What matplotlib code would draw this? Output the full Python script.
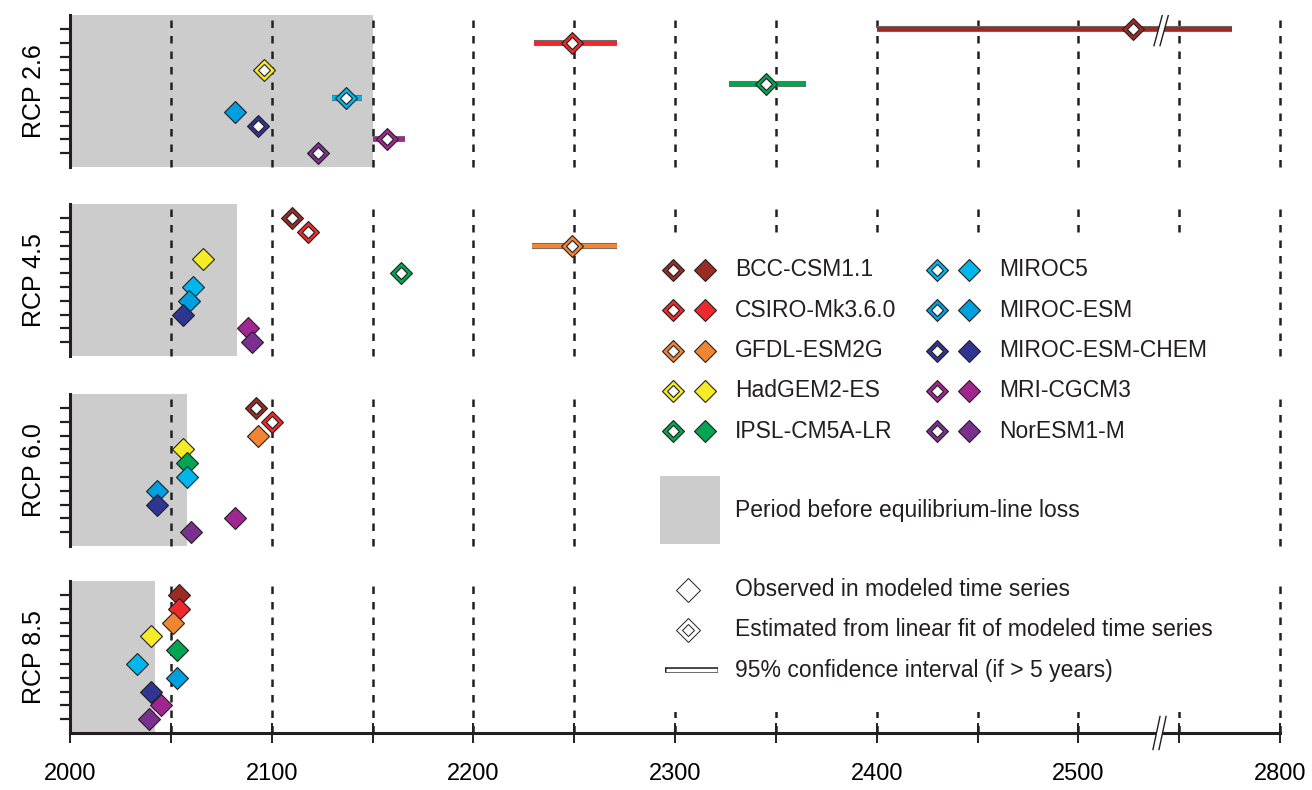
import matplotlib
matplotlib.use('Agg')
import matplotlib.pyplot as plt
from matplotlib.patches import Polygon, Rectangle
import numpy as np

plt.rcParams['font.family'] = ['Liberation Sans', 'DejaVu Sans']

nan = np.nan

models = ['BCC-CSM1.1', 'CSIRO-Mk3.6.0', 'GFDL-ESM2G', 'HadGEM2-ES', 'IPSL-CM5A-LR',
          'MIROC5', 'MIROC-ESM', 'MIROC-ESM-CHEM', 'MRI-CGCM3', 'NorESM1-M']
colors = ['#9b2c24', '#ed2a2b', '#f08533', '#f6eb27', '#00a651',
          '#00b6ed', '#009fdf', '#2e3592', '#a0278f', '#7b3090']
scenarios = ['RCP 2.6', 'RCP 4.5', 'RCP 6.0', 'RCP 8.5']

# end of grey period (before equilibrium-line loss)
gray_end = [2150, 2083, 2058, 2042]

# year of equilibrium-line loss, one list per scenario (nan = none)
rcp26 = [2527, 2249, nan, 2096, 2345, 2137, 2082, 2093, 2157, 2123]
rcp45 = [2110, 2118, 2249, 2066, 2164, 2061, 2059, 2056, 2088, 2090]
rcp60 = [2092, 2100, 2093, 2056, 2058, 2058, 2043, 2043, 2082, 2060]
rcp85 = [2054, 2054, 2051, 2040, 2053, 2033, 2053, 2040, 2045, 2039]

# 1 = estimated from linear fit (hollow), 0 = observed (filled)
est26 = [1, 1, 0, 1, 1, 1, 0, 1, 1, 1]
est45 = [1, 1, 1, 0, 1, 0, 0, 0, 0, 0]
est60 = [1, 1, 0, 0, 0, 0, 0, 0, 0, 0]
est85 = [0, 0, 0, 0, 0, 0, 0, 0, 0, 0]

# 95% confidence intervals (if > 5 years)
lo26 = [2400, 2230, nan, nan, 2327, 2130, nan, nan, 2150, nan]
hi26 = [2776, 2271, nan, nan, 2365, 2145, nan, nan, 2166, nan]
lo45 = [nan, nan, 2229, nan, nan, nan, nan, nan, nan, nan]
hi45 = [nan, nan, 2271, nan, nan, nan, nan, nan, nan, nan]
lo60 = [nan] * 10
hi60 = [nan] * 10
lo85 = [nan] * 10
hi85 = [nan] * 10

years = [rcp26, rcp45, rcp60, rcp85]
est = [est26, est45, est60, est85]
los = [lo26, lo45, lo60, lo85]
his = [hi26, hi45, hi60, hi85]

xticks = [2000, 2100, 2200, 2300, 2400, 2500, 2800]
brk = 2540   # axis break (display units), 200 years cut out
cut = 200


def to_disp(yr):
    # years after the break are shifted left by the cut
    if yr >= brk + cut:
        return yr - cut
    return yr


dark = '#231f20'
fig = plt.figure(figsize=(13.12, 7.9), dpi=100)
bottoms = [0.7886, 0.5494, 0.3089, 0.0722]

for k in range(4):
    ax = fig.add_axes([0.0534, bottoms[k], 0.9222, 0.192])
    ax.set_xlim(2000, 2600)
    ax.set_ylim(10, -1)
    ax.axvspan(2000, to_disp(gray_end[k]), color='#cccccc', lw=0, zorder=0)
    for xv in np.arange(2050, 2601, 50):
        ax.axvline(xv, color=dark, lw=1.8, ls=(0, (3.0, 3.2)), zorder=1, clip_on=False)

    for s in ['top', 'right']:
        ax.spines[s].set_visible(False)
    ax.spines['left'].set_linewidth(2.2)
    ax.spines['left'].set_color(dark)
    ax.set_yticks(range(10))
    ax.set_yticklabels([])
    ax.tick_params(axis='y', direction='out', length=7, width=1.6, color=dark)
    ax.set_ylabel(scenarios[k], fontsize=18, labelpad=7)

    if k < 3:
        ax.spines['bottom'].set_visible(False)
        ax.set_xticks([])
    else:
        ax.spines['bottom'].set_linewidth(2.2)
        ax.spines['bottom'].set_color(dark)
        ax.set_xticks([to_disp(t) for t in xticks])
        ax.set_xticklabels([str(t) for t in xticks])
        ax.set_xticks([2050, 2150, 2250, 2350, 2450, 2550], minor=True)
        ax.tick_params(axis='x', which='both', direction='inout', length=15,
                       width=1.4, color=dark, labelsize=17, pad=14)
        # break marks on the axis
        bx = to_disp(brk)
        ax.add_patch(Polygon([[bx - 3, 11.2], [bx + 0.5, 8.8], [bx + 3.5, 8.8], [bx, 11.2]],
                             closed=True, fc='white', ec='none', zorder=10, clip_on=False))
        ax.plot([bx - 3, bx + 0.5], [11.2, 8.8], color=dark, lw=1, zorder=11, clip_on=False)
        ax.plot([bx, bx + 3.5], [11.2, 8.8], color=dark, lw=1, zorder=11, clip_on=False)

    for i in range(10):
        yr = years[k][i]
        if np.isnan(yr):
            continue
        c = colors[i]
        if not np.isnan(los[k][i]):
            xs = [to_disp(los[k][i]), to_disp(his[k][i])]
            ax.plot(xs, [i, i], color='#6d6d6d', lw=4.4, solid_capstyle='butt', zorder=3)
            ax.plot(xs, [i, i], color=c, lw=3, solid_capstyle='butt', zorder=3)
        ax.plot(to_disp(yr), i, 'D', ms=11, mfc=c, mec=dark, mew=0.8, zorder=4)
        if est[k][i]:
            ax.plot(to_disp(yr), i, 'D', ms=5.8, mfc='white', mec=dark, mew=0.8, zorder=5)

    if k == 0:
        # break marks across the long confidence bar
        bx = to_disp(brk)
        ax.add_patch(Polygon([[bx - 2.5, 1.2], [bx + 2, -1.2], [bx + 5, -1.2], [bx + 0.5, 1.2]],
                             closed=True, fc='white', ec='none', zorder=10))
        ax.plot([bx - 2.5, bx + 2], [1.2, -1.2], color=dark, lw=1, zorder=11)
        ax.plot([bx + 0.5, bx + 5], [1.2, -1.2], color=dark, lw=1, zorder=11)

# legend panel, drawn in pixel-like coordinates on a white background
lax = fig.add_axes([655 / 1312, (790 - 712) / 790, 617 / 1312, 472 / 790])
lax.set_zorder(5)
lax.set_facecolor('white')
lax.set_xlim(655, 1272)
lax.set_ylim(712, 240)
lax.set_xticks([])
lax.set_yticks([])
for s in lax.spines.values():
    s.set_visible(False)

for i, (name, c) in enumerate(zip(models, colors)):
    col, row = divmod(i, 5)
    x0 = 673 + col * 264
    y0 = 270 + row * 40.3
    lax.plot(x0, y0, 'D', ms=11, mfc=c, mec=dark, mew=0.8)
    lax.plot(x0, y0, 'D', ms=5.8, mfc='white', mec=dark, mew=0.8)
    lax.plot(x0 + 32, y0, 'D', ms=11, mfc=c, mec=dark, mew=0.8)
    lax.text(x0 + 62, y0, name, fontsize=16.5, va='center', ha='left', color=dark)

lax.add_patch(Rectangle((660, 476), 60, 68, fc='#cccccc', ec='none'))
lax.text(735, 510, 'Period before equilibrium-line loss', fontsize=16.5, va='center', color=dark)

lax.plot(688, 590, 'D', ms=12, mfc='white', mec=dark, mew=0.7)
lax.text(735, 590, 'Observed in modeled time series', fontsize=16.5, va='center', color=dark)
lax.plot(688, 630, 'D', ms=12, mfc='white', mec=dark, mew=0.7)
lax.plot(688, 630, 'D', ms=6, mfc='white', mec=dark, mew=0.7)
lax.text(735, 630, 'Estimated from linear fit of modeled time series', fontsize=16.5,
         va='center', color=dark)
lax.plot([665, 718], [670, 670], color=dark, lw=4, solid_capstyle='butt')
lax.plot([666, 717], [670, 670], color='white', lw=2.4, solid_capstyle='butt')
lax.text(735, 670, '95% confidence interval (if > 5 years)', fontsize=16.5, va='center', color=dark)

fig.savefig('out.png', dpi=100)
